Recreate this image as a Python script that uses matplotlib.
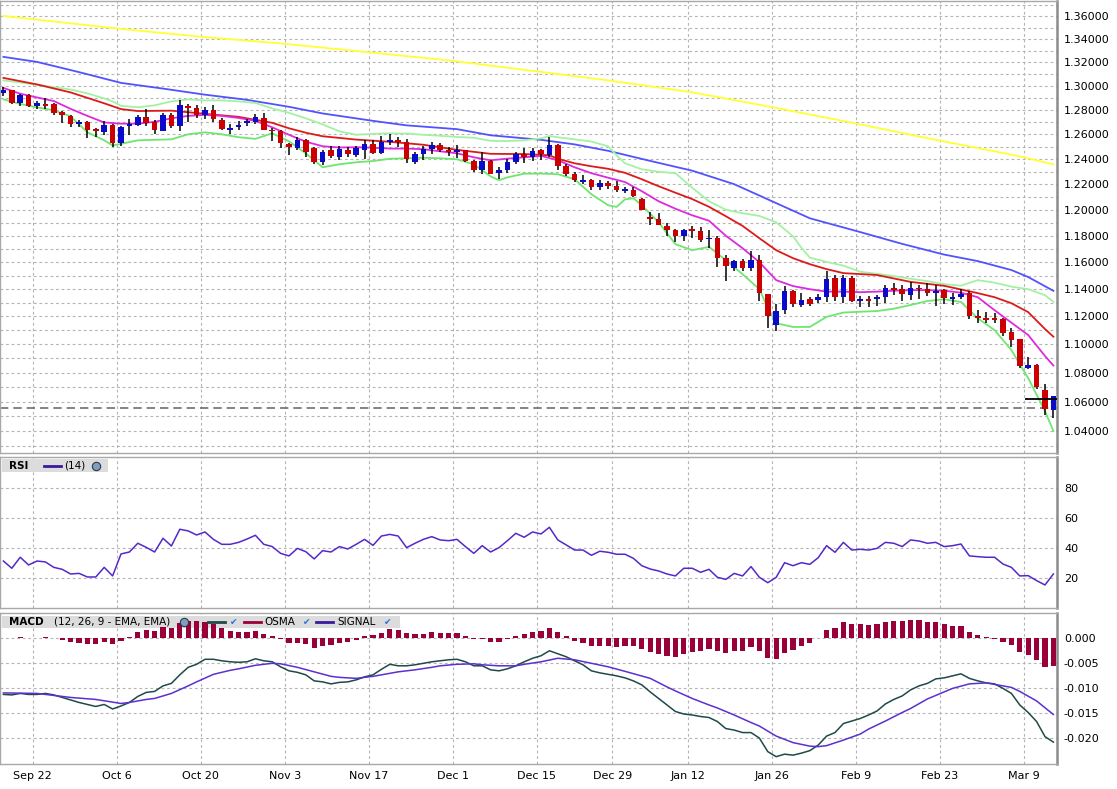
import numpy as np
import pandas as pd
import matplotlib
matplotlib.use('Agg')
import matplotlib.pyplot as plt
from matplotlib.ticker import FixedLocator, FixedFormatter, NullLocator
from matplotlib.lines import Line2D
from matplotlib.patches import Rectangle

plt.rcParams['font.family'] = ['DejaVu Sans']

# ---------------- data ----------------
all_days = pd.bdate_range('2014-09-16', '2015-03-12')
dates = all_days[~all_days.isin(pd.to_datetime(['2014-12-25', '2015-01-01']))]

opens = [1.2943,1.2963,1.2860,1.2924,1.2833,1.2853,1.2847,1.2784,1.2750,1.2683,
 1.2697,1.2640,1.2619,1.2678,1.2527,1.2665,1.2673,1.2738,1.2697,1.2629,
 1.2759,1.2665,1.2833,1.2813,1.2757,1.2797,1.2714,1.2632,1.2657,1.2689,
 1.2703,1.2735,1.2637,1.2624,1.2521,1.2486,1.2554,1.2486,1.2376,1.2473,
 1.2418,1.2473,1.2435,1.2476,1.2524,1.2451,1.2535,1.2551,1.2538,1.2376,
 1.2443,1.2484,1.2516,1.2476,1.2454,1.2470,1.2384,1.2311,1.2384,1.2289,
 1.2316,1.2376,1.2443,1.2416,1.2470,1.2435,1.2516,1.2342,1.2284,1.2215,
 1.2231,1.2178,1.2210,1.2186,1.2147,1.2157,1.2087,1.1944,1.1931,1.1872,
 1.1842,1.1796,1.1849,1.1834,1.1773,1.1786,1.1628,1.1553,1.1608,1.1553,
 1.1615,1.1362,1.1137,1.1246,1.1385,1.1282,1.1326,1.1318,1.1343,1.1483,
 1.1343,1.1485,1.1311,1.1326,1.1324,1.1343,1.1409,1.1399,1.1355,1.1411,
 1.1404,1.1372,1.1392,1.1326,1.1343,1.1372,1.1202,1.1188,1.1188,1.1181,
 1.1087,1.1037,1.0834,1.0853,1.0679,1.0542]
highs = [1.2990,1.2968,1.2935,1.2935,1.2875,1.2902,1.2858,1.2792,1.2758,1.2719,
 1.2705,1.2651,1.2705,1.2684,1.2670,1.2724,1.2759,1.2805,1.2713,1.2772,
 1.2772,1.2886,1.2853,1.2838,1.2824,1.2838,1.2735,1.2686,1.2705,1.2724,
 1.2765,1.2772,1.2651,1.2632,1.2530,1.2576,1.2562,1.2500,1.2473,1.2505,
 1.2505,1.2495,1.2505,1.2551,1.2551,1.2584,1.2600,1.2578,1.2565,1.2457,
 1.2503,1.2538,1.2530,1.2497,1.2511,1.2476,1.2389,1.2457,1.2395,1.2337,
 1.2403,1.2457,1.2492,1.2492,1.2484,1.2578,1.2524,1.2358,1.2297,1.2276,
 1.2241,1.2231,1.2225,1.2225,1.2178,1.2178,1.2094,1.1983,1.1975,1.1897,
 1.1849,1.1854,1.1872,1.1867,1.1847,1.1796,1.1653,1.1615,1.1620,1.1683,
 1.1653,1.1367,1.1294,1.1421,1.1392,1.1372,1.1343,1.1362,1.1535,1.1502,
 1.1502,1.1495,1.1350,1.1350,1.1355,1.1428,1.1448,1.1428,1.1453,1.1428,
 1.1446,1.1428,1.1397,1.1372,1.1397,1.1384,1.1245,1.1234,1.1222,1.1188,
 1.1113,1.1037,1.0912,1.0860,1.0721,1.0640]
lows = [1.2918,1.2852,1.2830,1.2825,1.2810,1.2810,1.2757,1.2692,1.2663,1.2663,
 1.2573,1.2578,1.2597,1.2500,1.2508,1.2597,1.2665,1.2670,1.2605,1.2624,
 1.2651,1.2624,1.2700,1.2730,1.2722,1.2700,1.2632,1.2605,1.2632,1.2665,
 1.2687,1.2632,1.2543,1.2486,1.2435,1.2473,1.2420,1.2357,1.2350,1.2405,
 1.2395,1.2418,1.2415,1.2397,1.2438,1.2438,1.2511,1.2497,1.2368,1.2358,
 1.2395,1.2438,1.2457,1.2422,1.2411,1.2376,1.2295,1.2284,1.2279,1.2244,
 1.2289,1.2357,1.2370,1.2384,1.2395,1.2416,1.2316,1.2268,1.2218,1.2199,
 1.2157,1.2157,1.2165,1.2139,1.2131,1.2100,1.1996,1.1880,1.1880,1.1796,
 1.1753,1.1758,1.1786,1.1753,1.1703,1.1565,1.1461,1.1535,1.1535,1.1535,
 1.1313,1.1113,1.1097,1.1217,1.1270,1.1270,1.1275,1.1299,1.1306,1.1313,
 1.1299,1.1306,1.1270,1.1270,1.1277,1.1299,1.1355,1.1313,1.1318,1.1325,
 1.1348,1.1275,1.1289,1.1282,1.1326,1.1181,1.1150,1.1155,1.1155,1.1059,
 1.0983,1.0834,1.0823,1.0684,1.0508,1.0490]
closes = [1.2968,1.2860,1.2924,1.2830,1.2858,1.2834,1.2778,1.2762,1.2685,1.2697,
 1.2637,1.2624,1.2678,1.2527,1.2659,1.2684,1.2743,1.2692,1.2637,1.2759,
 1.2665,1.2841,1.2813,1.2757,1.2802,1.2722,1.2646,1.2648,1.2678,1.2705,
 1.2740,1.2637,1.2624,1.2530,1.2495,1.2554,1.2460,1.2376,1.2460,1.2424,
 1.2478,1.2440,1.2490,1.2524,1.2451,1.2538,1.2557,1.2535,1.2403,1.2443,
 1.2484,1.2516,1.2470,1.2454,1.2476,1.2384,1.2311,1.2384,1.2284,1.2316,
 1.2376,1.2443,1.2416,1.2462,1.2438,1.2511,1.2344,1.2284,1.2231,1.2231,
 1.2178,1.2210,1.2189,1.2152,1.2163,1.2105,1.2001,1.1929,1.1885,1.1842,
 1.1796,1.1842,1.1834,1.1771,1.1786,1.1633,1.1570,1.1608,1.1558,1.1615,
 1.1372,1.1202,1.1239,1.1385,1.1289,1.1318,1.1289,1.1343,1.1478,1.1343,
 1.1483,1.1313,1.1326,1.1311,1.1343,1.1409,1.1392,1.1360,1.1411,1.1397,
 1.1372,1.1384,1.1335,1.1343,1.1362,1.1202,1.1190,1.1174,1.1174,1.1082,
 1.1030,1.0846,1.0856,1.0702,1.0549,1.0638]

# overlay lines (index = trading-day position)
yellow_idx = [0, 14, 24, 33, 43, 53, 63, 72, 82, 91, 101, 111, 121, 125]
yellow_val = [1.3602, 1.3489, 1.3417, 1.3363, 1.3290, 1.3217, 1.3128, 1.3047,
              1.2947, 1.2830, 1.2695, 1.2555, 1.2422, 1.2357]

blue_idx = [0, 4, 9, 14, 19, 24, 29, 34, 38, 44, 48, 54, 58, 64, 68, 72, 77, 82,
            87, 91, 96, 102, 107, 112, 116, 120, 122, 125]
blue_val = [1.3247, 1.3204, 1.3117, 1.3026, 1.2978, 1.2927, 1.2884, 1.2826, 1.2771,
            1.2710, 1.2673, 1.2642, 1.2592, 1.2555, 1.2518, 1.2466, 1.2385, 1.2307,
            1.2200, 1.2081, 1.1934, 1.1828, 1.1738, 1.1657, 1.1608, 1.1541, 1.1489,
            1.1387]

red_idx = [0, 4, 8, 12, 14, 16, 20, 24, 28, 32, 34, 36, 38, 42, 46, 50, 54, 58, 62,
           65, 66, 68, 70, 72, 74, 76, 78, 80, 82, 84, 86, 88, 90, 92, 94, 96, 98,
           100, 104, 108, 112, 116, 118, 120, 122, 124, 125]
red_val = [1.3068, 1.3013, 1.2946, 1.2855, 1.2807, 1.2791, 1.2794, 1.2768, 1.2743,
           1.2694, 1.2649, 1.2613, 1.2584, 1.2557, 1.2539, 1.2515, 1.2474, 1.2442,
           1.2440, 1.2430, 1.2402, 1.2366, 1.2342, 1.2322, 1.2290, 1.2239, 1.2184,
           1.2133, 1.2083, 1.2023, 1.1950, 1.1875, 1.1781, 1.1690, 1.1630, 1.1585,
           1.1548, 1.1518, 1.1504, 1.1453, 1.1424, 1.1370, 1.1340, 1.1296, 1.1231,
           1.1109, 1.1054]

mid_idx = list(range(0, 125, 2)) + [125]
mid_val = [1.2984, 1.2935, 1.2904, 1.2874, 1.2809, 1.2751, 1.2697, 1.2687, 1.2687,
           1.2702, 1.2731, 1.2751, 1.2759, 1.2751, 1.2734, 1.2710, 1.2657, 1.2596,
           1.2540, 1.2503, 1.2493, 1.2495, 1.2491, 1.2484, 1.2484, 1.2479, 1.2462,
           1.2446, 1.2414, 1.2390, 1.2403, 1.2414, 1.2426, 1.2390, 1.2334, 1.2287,
           1.2251, 1.2217, 1.2145, 1.2066, 1.2008, 1.1957, 1.1915, 1.1800, 1.1705,
           1.1600, 1.1466, 1.1422, 1.1399, 1.1381, 1.1381, 1.1377, 1.1381, 1.1388,
           1.1392, 1.1392, 1.1388, 1.1373, 1.1340, 1.1245, 1.1155, 1.1066, 1.0917,
           1.0850]

upper_idx = [0,2,4,6,8,10,12,13,14,16,18,20,22,24,26,28,30,32,34,36,38,40,42,44,46,
             48,50,52,54,56,58,60,62,64,65,66,68,70,72,73,74,76,78,80,82,84,86,88,
             90,92,94,95,96,98,100,102,104,106,108,110,112,114,116,118,120,122,124,125]
upper_val = [1.3047,1.3030,1.3009,1.2990,1.2970,1.2938,1.2896,1.2871,1.2834,1.2822,
             1.2838,1.2871,1.2888,1.2879,1.2879,1.2871,1.2858,1.2813,1.2776,1.2731,
             1.2681,1.2624,1.2596,1.2604,1.2608,1.2606,1.2596,1.2588,1.2578,1.2572,
             1.2547,1.2545,1.2551,1.2567,1.2586,1.2576,1.2559,1.2541,1.2502,1.2430,
             1.2366,1.2318,1.2298,1.2287,1.2172,1.2066,1.2000,1.1973,1.1952,1.1903,
             1.1796,1.1709,1.1634,1.1602,1.1574,1.1528,1.1513,1.1496,1.1476,1.1459,
             1.1436,1.1425,1.1466,1.1447,1.1418,1.1399,1.1355,1.1306]

lower_idx = [0,2,4,6,8,10,12,13,14,16,18,20,22,24,26,28,30,32,34,36,38,40,42,44,46,
             48,50,52,54,56,58,59,60,62,64,66,68,70,72,73,74,75,76,78,80,82,84,86,88,
             90,91,92,94,96,98,100,102,104,106,108,110,112,114,116,118,120,122,124,125]
lower_val = [1.2888,1.2850,1.2821,1.2797,1.2747,1.2616,1.2551,1.2510,1.2522,1.2551,
             1.2555,1.2559,1.2600,1.2616,1.2600,1.2576,1.2563,1.2608,1.2543,1.2446,
             1.2334,1.2358,1.2374,1.2384,1.2402,1.2406,1.2410,1.2406,1.2398,1.2358,
             1.2262,1.2231,1.2254,1.2283,1.2284,1.2279,1.2239,1.2121,1.2035,1.2022,
             1.2081,1.2089,1.2035,1.1903,1.1736,1.1690,1.1715,1.1615,1.1510,1.1399,
             1.1261,1.1151,1.1124,1.1124,1.1197,1.1228,1.1234,1.1239,1.1256,1.1283,
             1.1312,1.1325,1.1305,1.1187,1.1101,1.0959,1.0762,1.0535,1.0400]

last_bid = 1.0556
marker_price = 1.0615

rsi = [31.2,26.4,33.7,28.6,31.2,30.6,27.0,25.7,22.6,23.0,
 20.6,20.6,27.0,21.3,35.9,37.2,43.0,40.3,37.2,46.3,
 41.2,52.3,51.2,48.5,50.5,45.6,42.3,42.3,43.6,45.8,
 48.3,42.3,40.8,36.3,34.6,39.6,37.4,32.6,38.1,37.2,
 40.8,39.2,42.3,45.6,41.6,47.8,48.9,47.8,40.1,43.0,
 45.6,47.4,45.2,44.7,45.6,40.8,36.3,41.4,37.2,40.1,
 44.7,49.6,47.0,50.5,49.2,53.6,45.2,41.9,38.5,38.5,
 35.0,37.7,37.0,35.7,35.7,33.0,28.1,25.9,24.6,22.6,
 21.3,26.4,26.4,23.7,25.7,20.4,19.0,23.0,21.3,27.5,
 20.4,16.8,20.4,30.1,28.1,30.1,29.0,33.4,41.4,37.0,
 43.6,38.5,39.0,38.5,39.6,43.6,43.0,40.8,45.2,44.5,
 43.0,43.6,40.8,41.4,42.5,34.6,34.1,33.7,33.7,29.2,
 27.0,21.3,21.5,18.2,15.3,22.6]

macd = [-0.0113,-0.0114,-0.0111,-0.0113,-0.0113,-0.0111,-0.0114,-0.0119,-0.0124,-0.0129,
 -0.0133,-0.0137,-0.0133,-0.0142,-0.0136,-0.0129,-0.0117,-0.0109,-0.0107,-0.0096,
 -0.0091,-0.0074,-0.0059,-0.0053,-0.0043,-0.0043,-0.0046,-0.0048,-0.0049,-0.0048,
 -0.0042,-0.0046,-0.0048,-0.0058,-0.0066,-0.0069,-0.0074,-0.0086,-0.0088,-0.0092,
 -0.0089,-0.0088,-0.0084,-0.0078,-0.0074,-0.0063,-0.0053,-0.0056,-0.0056,-0.0054,
 -0.0051,-0.0048,-0.0046,-0.0044,-0.0043,-0.0048,-0.0056,-0.0056,-0.0064,-0.0066,
 -0.0062,-0.0056,-0.0048,-0.0041,-0.0036,-0.0026,-0.0032,-0.0038,-0.0046,-0.0054,
 -0.0066,-0.0070,-0.0073,-0.0076,-0.0080,-0.0086,-0.0094,-0.0108,-0.0121,-0.0134,
 -0.0147,-0.0152,-0.0154,-0.0157,-0.0159,-0.0167,-0.0181,-0.0184,-0.0189,-0.0189,
 -0.0200,-0.0227,-0.0237,-0.0232,-0.0234,-0.0230,-0.0225,-0.0214,-0.0196,-0.0189,
 -0.0171,-0.0166,-0.0161,-0.0154,-0.0146,-0.0132,-0.0123,-0.0116,-0.0104,-0.0096,
 -0.0091,-0.0082,-0.0080,-0.0076,-0.0072,-0.0081,-0.0086,-0.0090,-0.0092,-0.0101,
 -0.0111,-0.0134,-0.0149,-0.0167,-0.0197,-0.0208]

signal_idx = [0,4,8,11,14,15,17,18,20,22,23,25,27,28,30,32,33,35,37,39,40,42,44,46,47,
              49,51,52,54,56,57,59,61,62,64,66,68,70,72,74,77,79,80,82,84,85,87,89,90,
              92,94,96,97,98,100,102,103,105,107,108,110,112,113,115,117,118,120,121,123,125]
signal_val = [-0.0110,-0.0111,-0.0119,-0.0123,-0.0131,-0.0129,-0.0123,-0.0121,-0.0111,-0.0096,
              -0.0088,-0.0073,-0.0065,-0.0062,-0.0055,-0.0051,-0.0052,-0.0059,-0.0068,-0.0077,
              -0.0079,-0.0081,-0.0077,-0.0071,-0.0068,-0.0064,-0.0059,-0.0056,-0.0053,-0.0052,
              -0.0054,-0.0056,-0.0056,-0.0053,-0.0048,-0.0041,-0.0044,-0.0051,-0.0058,-0.0067,
              -0.0081,-0.0098,-0.0106,-0.0121,-0.0134,-0.0140,-0.0154,-0.0169,-0.0176,-0.0196,
              -0.0209,-0.0216,-0.0217,-0.0215,-0.0204,-0.0192,-0.0182,-0.0166,-0.0149,-0.0141,
              -0.0122,-0.0108,-0.0101,-0.0092,-0.0090,-0.0093,-0.0099,-0.0107,-0.0126,-0.0153]

osma = [0.0000,-0.0001,0.0001,0.0000,0.0000,0.0001,0.0000,-0.0005,-0.0008,-0.0010,
 -0.0013,-0.0013,-0.0008,-0.0013,-0.0006,0.0002,0.0011,0.0015,0.0013,0.0022,
 0.0020,0.0030,0.0033,0.0033,0.0032,0.0027,0.0020,0.0013,0.0012,0.0012,
 0.0013,0.0007,0.0004,-0.0003,-0.0011,-0.0011,-0.0013,-0.0020,-0.0017,-0.0015,
 -0.0010,-0.0008,-0.0005,0.0003,0.0005,0.0010,0.0017,0.0015,0.0009,0.0007,
 0.0007,0.0011,0.0009,0.0009,0.0009,0.0004,-0.0003,-0.0003,-0.0008,-0.0008,
 -0.0003,0.0003,0.0007,0.0012,0.0013,0.0019,0.0011,0.0003,-0.0006,-0.0010,
 -0.0016,-0.0016,-0.0016,-0.0018,-0.0016,-0.0016,-0.0023,-0.0028,-0.0032,-0.0036,
 -0.0038,-0.0033,-0.0028,-0.0027,-0.0023,-0.0027,-0.0030,-0.0026,-0.0026,-0.0018,
 -0.0026,-0.0040,-0.0042,-0.0030,-0.0025,-0.0016,-0.0010,0.0000,0.0015,0.0020,
 0.0031,0.0027,0.0027,0.0025,0.0027,0.0031,0.0033,0.0033,0.0035,0.0035,
 0.0032,0.0031,0.0027,0.0023,0.0023,0.0011,0.0005,0.0001,-0.0002,-0.0008,
 -0.0015,-0.0028,-0.0034,-0.0044,-0.0058,-0.0056]

label_dates = pd.date_range('2014-09-22', '2015-03-09', freq='14D')
label_text = [f"{d.strftime('%b')} {d.day}" for d in label_dates]
price_ticks = np.round(np.arange(1.03, 1.3705, 0.01), 2)
rsi_ticks = [20, 40, 60, 80]
macd_ticks = [0.0, -0.005, -0.010, -0.015, -0.020]

# ---------------- figure ----------------
W, H = 1117.0, 789.0
fig = plt.figure(figsize=(W / 100, H / 100), dpi=100, facecolor='white')

def rect_for(top, bottom, left=0.0, right=1057.0):
    return [left / W, 1 - bottom / H, (right - left) / W, (bottom - top) / H]

ax = fig.add_axes(rect_for(0.5, 453))
ax_r = fig.add_axes(rect_for(457, 608))
ax_m = fig.add_axes(rect_for(613, 764))

idx = np.arange(len(dates))
grid_x = [dates.get_loc(d) - 0.5 for d in label_dates]
XMIN, XMAX = -0.405, 125.43

def style(a):
    a.set_xlim(XMIN, XMAX)
    a.yaxis.tick_right()
    a.set_xticks(grid_x)
    a.tick_params(axis='both', length=0, labelsize=8, colors='black')
    a.tick_params(axis='y', pad=5)
    a.tick_params(axis='x', pad=5)
    a.grid(True, color='#b4b4b4', linestyle=(0, (2.5, 2.5)), linewidth=0.8)
    a.set_axisbelow(True)
    for s in a.spines.values():
        s.set_color('#a8a8a8')
        s.set_linewidth(1.0)
    a.spines['right'].set_color('#8c8c8c')
    a.spines['right'].set_linewidth(1.8)

# ---- main price panel ----
ax.set_yscale('log')
ax.set_ylim(1.02532, 1.37388)
ax.yaxis.set_major_locator(FixedLocator(price_ticks))
ax.yaxis.set_major_formatter(FixedFormatter(
    [f'{t:.5f}' if int(round(t * 100)) % 2 == 0 else '' for t in price_ticks]))
ax.yaxis.set_minor_locator(NullLocator())
style(ax)
ax.set_xticklabels([])

ax.plot(yellow_idx, yellow_val, color='#ffff33', lw=1.3, zorder=2)
ax.plot(blue_idx, blue_val, color='#5252ff', lw=1.3, zorder=2)
ax.plot(upper_idx, upper_val, color='#a3f2a3', lw=1.3, zorder=2)
ax.plot(lower_idx, lower_val, color='#6fe66f', lw=1.3, zorder=2)
ax.plot(red_idx, red_val, color='#dd1a1a', lw=1.3, zorder=2)
ax.plot(mid_idx, mid_val, color='#dd2add', lw=1.3, zorder=2)

ax.axhline(last_bid, color='#6e6e6e', lw=1.2, ls=(0, (5, 3)), zorder=2)

o = np.array(opens); h = np.array(highs); l = np.array(lows); c = np.array(closes)
up = c >= o
cols = np.where(up, '#0a0acc', '#cc0000')
ax.vlines(idx, l, h, color='black', lw=1.1, zorder=3)
ax.bar(idx, np.abs(c - o), bottom=np.minimum(o, c), width=0.66, color=cols,
       linewidth=0, zorder=4)
ax.hlines(marker_price, 121.6, XMAX, color='black', lw=1.3, zorder=5)

# ---- RSI panel ----
ax_r.set_ylim(0, 100.3)
ax_r.set_yticks(rsi_ticks)
ax_r.set_yticklabels([str(v) for v in rsi_ticks])
style(ax_r)
ax_r.set_xticklabels([])
ax_r.plot(idx, rsi, color='#5528c8', lw=1.1, zorder=3)

# ---- MACD panel ----
ax_m.set_ylim(-0.02516, 0.00492)
ax_m.set_yticks(macd_ticks)
ax_m.set_yticklabels([f'{v:.3f}'.replace('-0.000', '0.000') for v in macd_ticks])
style(ax_m)
ax_m.set_xticklabels(label_text)
ax_m.bar(idx, osma, width=0.64, color='#99003a', linewidth=0, zorder=3)
ax_m.plot(idx, macd, color='#1f4a48', lw=1.1, zorder=4)
ax_m.plot(signal_idx, signal_val, color='#5a30d0', lw=1.1, zorder=4)

# ---- legend boxes ----
def to_ax(box, px, py):
    top, bottom = box
    return px / 1057.0, (bottom - py) / (bottom - top)

def legend_box(a, box, x0, x1, y0, y1):
    fx0, fy1 = to_ax(box, x0, y1)
    fx1, fy0 = to_ax(box, x1, y0)
    a.add_patch(Rectangle((fx0, fy1), fx1 - fx0, fy0 - fy1, transform=a.transAxes,
                          facecolor='#dcdcdc', edgecolor='none', zorder=2.5,
                          clip_on=False))

def ltext(a, box, px, py, s, **kw):
    fx, fy = to_ax(box, px, py)
    a.text(fx, fy, s, transform=a.transAxes, va='center', ha='left', zorder=6, **kw)

def lline(a, box, x0, x1, py, color):
    f0, fy = to_ax(box, x0, py)
    f1, _ = to_ax(box, x1, py)
    a.add_line(Line2D([f0, f1], [fy, fy], transform=a.transAxes, color=color,
                      lw=2, zorder=6, clip_on=False))

def globe(a, box, px, py):
    fx, fy = to_ax(box, px, py)
    a.add_line(Line2D([fx], [fy], transform=a.transAxes, marker='o', markersize=6,
                      markerfacecolor='#7f9fbf', markeredgecolor='#2a3a4a',
                      markeredgewidth=0.8, zorder=6, clip_on=False))

def check(a, box, px, py):
    ltext(a, box, px, py, '\u2714', fontsize=6.5, color='#2a6fd6')

rbox = (457, 608)
legend_box(ax_r, rbox, 2, 108, 459, 472)
ltext(ax_r, rbox, 9, 465.8, 'RSI', fontsize=7.5, fontweight='bold', color='black')
lline(ax_r, rbox, 44, 61, 465.5, '#3a1a9a')
ltext(ax_r, rbox, 64, 465.8, '(14)', fontsize=7.5, color='black')
globe(ax_r, rbox, 95.5, 465.5)

mbox = (613, 764)
legend_box(ax_m, mbox, 2, 400, 616, 627.5)
ltext(ax_m, mbox, 9, 622, 'MACD', fontsize=7.5, fontweight='bold', color='black')
ltext(ax_m, mbox, 54, 622, '(12, 26, 9 - EMA, EMA)', fontsize=7.5, color='black')
globe(ax_m, mbox, 183.5, 621.7)
lline(ax_m, mbox, 208, 225, 621.7, '#1f4a48')
check(ax_m, mbox, 230, 622)
lline(ax_m, mbox, 244, 261, 621.7, '#99003a')
ltext(ax_m, mbox, 264, 622, 'OSMA', fontsize=7.5, color='black')
check(ax_m, mbox, 303, 622)
lline(ax_m, mbox, 316, 333, 621.7, '#3a1a9a')
ltext(ax_m, mbox, 337, 622, 'SIGNAL', fontsize=7.5, color='black')
check(ax_m, mbox, 384, 622)

fig.savefig('out.png', dpi=100, facecolor='white')
